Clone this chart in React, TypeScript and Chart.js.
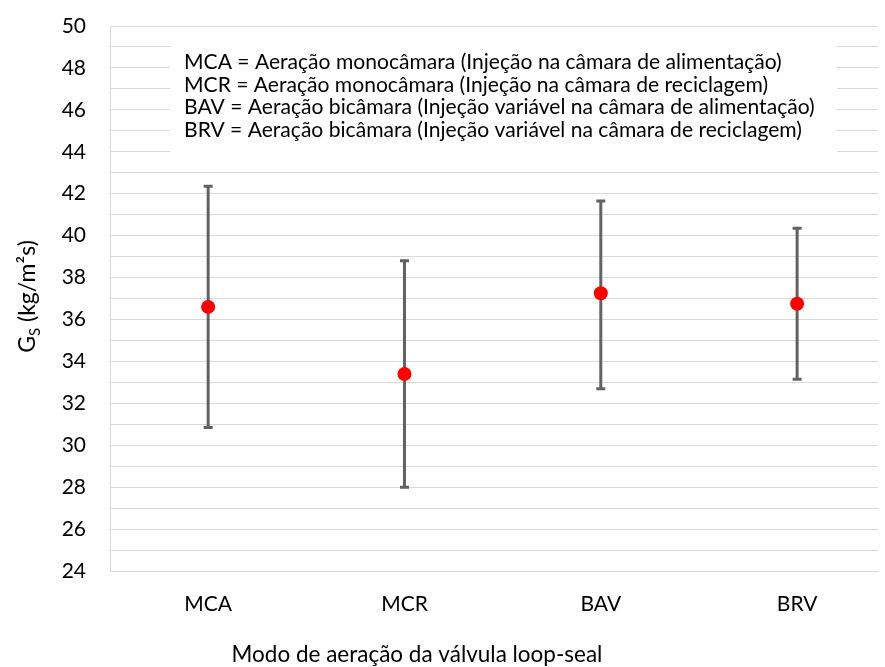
import { useEffect, useRef } from 'react';
import { Chart, registerables } from 'chart.js';
Chart.register(...registerables);

const categories = ['MCA', 'MCR', 'BAV', 'BRV'];
const means = [36.6, 33.4, 37.25, 36.75];
const upper = [42.35, 38.8, 41.65, 40.35];
const lower = [30.85, 28.0, 32.7, 33.15];
const noteLines = [
  'MCA = Aeração monocâmara (Injeção na câmara de alimentação)',
  'MCR = Aeração monocâmara (Injeção na câmara de reciclagem)',
  'BAV = Aeração bicâmara (Injeção variável na câmara de alimentação)',
  'BRV = Aeração bicâmara (Injeção variável na câmara de reciclagem)',
];
const xTitle = 'Modo de aeração da válvula loop-seal';
const yMin = 24;
const yMax = 50;

const FONT = 'Lato, "Open Sans", sans-serif';

const errorBarPlugin = {
  id: 'errorBars',
  beforeDatasetsDraw(chart: any) {
    const { ctx, scales } = chart;
    const xs = scales.x, ys = scales.y;
    ctx.save();
    ctx.strokeStyle = '#626262';
    ctx.lineWidth = 3;
    ctx.lineCap = 'butt';
    categories.forEach((_, i) => {
      const x = xs.getPixelForValue(i);
      const yt = ys.getPixelForValue(upper[i]);
      const yb = ys.getPixelForValue(lower[i]);
      ctx.beginPath();
      ctx.moveTo(x, yt);
      ctx.lineTo(x, yb);
      ctx.moveTo(x - 4.5, yt);
      ctx.lineTo(x + 4.5, yt);
      ctx.moveTo(x - 4.5, yb);
      ctx.lineTo(x + 4.5, yb);
      ctx.stroke();
    });
    ctx.restore();
  },
};

const notePlugin = {
  id: 'noteBox',
  beforeDatasetsDraw(chart: any) {
    const { ctx, chartArea } = chart;
    const left = chartArea.left + 60;
    const top = chartArea.top + 14;
    ctx.save();
    ctx.fillStyle = '#ffffff';
    ctx.fillRect(left, top, 667, 122);
    let size = 20;
    ctx.font = `${size}px ${FONT}`;
    const w = ctx.measureText(noteLines[0]).width;
    size = size * 598 / w;
    ctx.font = `${size}px ${FONT}`;
    ctx.fillStyle = '#000000';
    ctx.textBaseline = 'middle';
    ctx.textAlign = 'left';
    noteLines.forEach((t, i) => {
      ctx.fillText(t, left + 14, top + 22 + i * 22.8);
    });
    ctx.restore();
  },
};

const titlePlugin = {
  id: 'axisTitles',
  afterDraw(chart: any) {
    const { ctx, chartArea } = chart;
    ctx.save();
    ctx.fillStyle = '#000000';
    let size = 22;
    ctx.font = `${size}px ${FONT}`;
    const w = ctx.measureText(xTitle).width;
    size = size * 371 / w;
    ctx.font = `${size}px ${FONT}`;
    ctx.textAlign = 'center';
    ctx.textBaseline = 'middle';
    ctx.fillText(xTitle, 417, 655);

    const cy = (chartArea.top + chartArea.bottom) / 2 - 2;
    ctx.translate(27, cy);
    ctx.rotate(-Math.PI / 2);
    const big = `23px ${FONT}`;
    const small = `15px ${FONT}`;
    ctx.textAlign = 'left';
    ctx.textBaseline = 'alphabetic';
    ctx.font = big;
    const wG = ctx.measureText('G').width;
    const rest = ' (kg/m²s)';
    const wR = ctx.measureText(rest).width;
    ctx.font = small;
    const wS = ctx.measureText('S').width;
    const total = wG + wS + wR;
    let x = -total / 2;
    const base = 8;
    ctx.font = big;
    ctx.fillText('G', x, base);
    x += wG;
    ctx.font = small;
    ctx.fillText('S', x, base + 5);
    x += wS;
    ctx.font = big;
    ctx.fillText(rest, x, base);
    ctx.restore();
  },
};

export default function App() {
  const ref = useRef<HTMLCanvasElement>(null);
  useEffect(() => {
    const chart = new Chart(ref.current!, {
      type: 'scatter',
      data: {
        datasets: [
          {
            data: means.map((v, i) => ({ x: i, y: v })),
            backgroundColor: '#ff0000',
            borderColor: '#ff0000',
            pointRadius: 7,
            pointHoverRadius: 7,
            borderWidth: 0,
          },
        ],
      },
      options: {
        responsive: true,
        maintainAspectRatio: false,
        animation: false,
        layout: { padding: { top: 26, left: 0, right: 0, bottom: 0 } },
        plugins: { legend: { display: false }, tooltip: { enabled: false } },
        scales: {
          x: {
            type: 'linear',
            min: -0.5,
            max: 3.412,
            afterBuildTicks: (s: any) => {
              s.ticks = categories.map((_, i) => ({ value: i }));
            },
            afterFit: (s: any) => {
              s.height = 96;
            },
            ticks: {
              callback: (v: any) => categories[v] ?? '',
              font: { family: FONT, size: 21 },
              color: '#000000',
              padding: 13,
              autoSkip: false,
              maxRotation: 0,
            },
            grid: { display: false },
            border: { display: false },
          },
          y: {
            min: yMin,
            max: yMax,
            afterFit: (s: any) => {
              s.width = 110;
              s.paddingTop = 0;
              s.paddingBottom = 0;
            },
            ticks: {
              stepSize: 1,
              callback: (v: any) => (Number(v) % 2 === 0 ? String(v) : ''),
              font: { family: FONT, size: 21 },
              color: '#000000',
              padding: 24,
              autoSkip: false,
            },
            grid: { color: '#d9d9d9', lineWidth: 1, drawTicks: false },
            border: { color: '#d9d9d9', width: 1 },
          },
        },
      },
      plugins: [errorBarPlugin, notePlugin, titlePlugin],
    });
    return () => chart.destroy();
  }, []);
  return (
    <div style={{ position: 'absolute', left: 0, top: 0, width: 885, height: 667 }}>
      <canvas ref={ref} />
    </div>
  );
}
